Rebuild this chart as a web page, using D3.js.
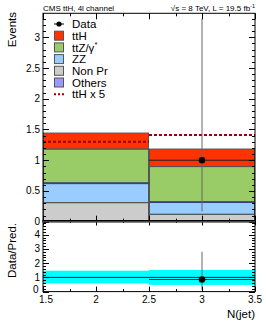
<!DOCTYPE html>
<html><head><meta charset="utf-8">
<script src="https://cdn.jsdelivr.net/npm/d3@7"></script>
<style>body{margin:0;background:#fff}svg{display:block;font-family:"Liberation Sans",Arial,sans-serif}</style>
</head><body><svg id="c" width="266" height="322"></svg>
<script>
// ---- data ----
const binEdges = [1.5, 2.5, 3.5];
const binCenters = [2, 3];
const nonPr = [0.31, 0.12];
const zz = [0.31, 0.195];
const others = [0.012, 0.012];
const ttZ = [0.55, 0.57];
const ttH = [0.26, 0.285];
const ttHx5 = [1.30, 1.41];
const dataVals = [null, 1];
const dataLo = [null, 0.17];
const dataHi = [null, 3.30];
const ratioVals = [null, 0.85];
const ratioLo = [null, 0.14];
const ratioHi = [null, 2.80];
const bandLo = [0.58, 0.47];
const bandHi = [1.47, 1.52];
const xTicks = [1.5, 2, 2.5, 3, 3.5];
const xTickLabels = ["1.5", "2", "2.5", "3", "3.5"];
const yTicks = [0, 0.5, 1, 1.5, 2, 2.5, 3];
const yTickLabels = ["0", "0.5", "1", "1.5", "2", "2.5", "3"];
const rTicks = [0, 1, 2, 3, 4];
const rTickLabels = ["0", "1", "2", "3", "4"];
const layers = [
  {name: "Non Pr", vals: nonPr, color: "#cccccc", line: "#555555"},
  {name: "ZZ", vals: zz, color: "#99ccff", line: "#555555"},
  {name: "Others", vals: others, color: "#9999ff", line: "#333399"},
  {name: "ttZ/\u03b3*", vals: ttZ, color: "#99cc66", line: "#555555"},
  {name: "ttH", vals: ttH, color: "#ff3300", line: "#555555"}
];
const legendItems = [
  {name: "Data", type: "point"},
  {name: "ttH", type: "box", color: "#ff3300"},
  {name: "ttZ/\u03b3", sup: "*", type: "box", color: "#99cc66"},
  {name: "ZZ", type: "box", color: "#99ccff"},
  {name: "Non Pr", type: "box", color: "#cccccc"},
  {name: "Others", type: "box", color: "#9999ff"},
  {name: "ttH x 5", type: "dash"}
];

const svg = d3.select("#c");
const L = 43, R = 255;
const x = d3.scaleLinear().domain([1.5, 3.5]).range([L, R]);
const y = d3.scaleLinear().domain([0, 3.39]).range([221.7, 13.3]);
const yr = d3.scaleLinear().domain([0, 5]).range([291.6, 220.5]);

svg.append("defs").append("clipPath").attr("id", "mclip")
  .append("rect").attr("x", L).attr("y", 13.3).attr("width", R - L).attr("height", 221.7 - 13.3);

// stacked histograms
const g = svg.append("g").attr("clip-path", "url(#mclip)");
const series = d3.stack().keys(layers.map((d, i) => i)).value((d, k) => layers[k].vals[d])(binCenters.map((c, i) => i));
series.forEach((s, k) => {
  s.forEach((v, i) => {
    g.append("rect")
      .attr("x", x(binEdges[i])).attr("width", x(binEdges[i + 1]) - x(binEdges[i]))
      .attr("y", y(v[1])).attr("height", y(v[0]) - y(v[1]))
      .attr("fill", layers[k].color);
  });
});
// outlines
series.forEach((s, k) => {
  s.forEach((v, i) => {
    g.append("rect")
      .attr("x", x(binEdges[i]) + 0.5).attr("width", x(binEdges[i + 1]) - x(binEdges[i]) - 1)
      .attr("y", y(v[1])).attr("height", Math.max(0, y(v[0]) - y(v[1])))
      .attr("fill", "none").attr("stroke", layers[k].line).attr("stroke-width", 1);
  });
});
// ttH x5 dashed
ttHx5.forEach((v, i) => {
  g.append("line").attr("x1", x(binEdges[i])).attr("x2", x(binEdges[i + 1]))
    .attr("y1", y(v)).attr("y2", y(v))
    .attr("stroke", "#990000").attr("stroke-width", 2).attr("stroke-dasharray", "3,2");
});
// data
dataVals.forEach((v, i) => {
  if (v == null) return;
  g.append("line").attr("x1", x(binCenters[i])).attr("x2", x(binCenters[i]))
    .attr("y1", y(dataLo[i])).attr("y2", y(dataHi[i])).attr("stroke", "#666").attr("stroke-width", 1);
  g.append("line").attr("x1", x(binEdges[i])).attr("x2", x(binEdges[i + 1]))
    .attr("y1", y(v)).attr("y2", y(v)).attr("stroke", "#222").attr("stroke-width", 1);
  g.append("circle").attr("cx", x(binCenters[i])).attr("cy", y(v)).attr("r", 3.3).attr("fill", "#000");
});

// ticks helper
function ticksY(scale, majors, minorStep, lo, hi, majLen, minLen) {
  const sel = svg.append("g").attr("stroke", "#000").attr("stroke-width", 1);
  for (let v = lo; v <= hi + 1e-9; v += minorStep) {
    const isMaj = majors.some(m => Math.abs(m - v) < 1e-6);
    const len = isMaj ? majLen : minLen;
    const yy = Math.round(scale(v)) + 0.5;
    sel.append("line").attr("x1", L).attr("x2", L + len).attr("y1", yy).attr("y2", yy);
    sel.append("line").attr("x1", R).attr("x2", R - len).attr("y1", yy).attr("y2", yy);
  }
}
function ticksX(yBottom, yTop, majLen, minLen) {
  const sel = svg.append("g").attr("stroke", "#000").attr("stroke-width", 1);
  for (let v = 1.5; v <= 3.5 + 1e-9; v += 0.25) {
    const isMaj = Math.abs(v * 2 - Math.round(v * 2)) < 1e-6;
    const len = isMaj ? majLen : minLen;
    const xx = Math.round(x(v)) + 0.5;
    sel.append("line").attr("x1", xx).attr("x2", xx).attr("y1", yBottom).attr("y2", yBottom - len);
    sel.append("line").attr("x1", xx).attr("x2", xx).attr("y1", yTop).attr("y2", yTop + len);
  }
}
ticksY(y, yTicks, 0.1, 0, 3.3, 6, 3);
ticksX(221.7, 13.3, 6, 3);

// main frame
svg.append("rect").attr("x", L).attr("y", 13.3).attr("width", R - L).attr("height", 221.7 - 13.3)
  .attr("fill", "none").attr("stroke", "#000").attr("stroke-width", 1);

// y tick labels main
svg.append("g").selectAll("text").data(yTicks).join("text")
  .attr("x", 40).attr("y", d => y(d)).attr("dy", "0.35em").attr("text-anchor", "end")
  .attr("font-size", 10).attr("fill", "#000").text((d, i) => yTickLabels[i]);

// legend
const lg = svg.append("g");
legendItems.forEach((it, i) => {
  const cy = 24 + i * 11.7;
  if (it.type === "point") {
    lg.append("circle").attr("cx", 59).attr("cy", cy).attr("r", 2.6).attr("fill", "#000");
    lg.append("line").attr("x1", 54).attr("x2", 64).attr("y1", cy).attr("y2", cy).attr("stroke", "#000");
  } else if (it.type === "box") {
    lg.append("rect").attr("x", 54.5).attr("y", cy - 4.5).attr("width", 9).attr("height", 9)
      .attr("fill", it.color).attr("stroke", "#555").attr("stroke-width", 1);
  } else {
    lg.append("line").attr("x1", 54).attr("x2", 64).attr("y1", cy).attr("y2", cy)
      .attr("stroke", "#990000").attr("stroke-width", 2).attr("stroke-dasharray", "2,2");
  }
  const t = lg.append("text").attr("x", 72).attr("y", cy + 4.1)
    .attr("font-size", 11.5).attr("fill", "#000");
  t.append("tspan").text(it.name);
  if (it.sup) t.append("tspan").attr("font-size", 7.5).attr("dy", -4.5).text(it.sup);
});

// titles
svg.append("text").attr("x", 43).attr("y", 10.5).attr("font-size", 8).text("CMS ttH, 4l channel");
const tr = svg.append("text").attr("x", 255).attr("y", 10.5).attr("font-size", 8).attr("text-anchor", "end");
tr.append("tspan").text("\u221As = 8 TeV, L = 19.5 fb");
tr.append("tspan").attr("font-size", 5.5).attr("dy", -3).text("-1");
svg.append("text").attr("transform", "translate(16,12) rotate(-90)").attr("text-anchor", "end")
  .attr("font-size", 11.5).text("Events");

// ratio panel
const gr = svg.append("g");
bandLo.forEach((lo, i) => {
  gr.append("rect").attr("x", x(binEdges[i])).attr("width", x(binEdges[i + 1]) - x(binEdges[i]))
    .attr("y", yr(bandHi[i])).attr("height", yr(lo) - yr(bandHi[i])).attr("fill", "#00ffff");
});
gr.append("line").attr("x1", L).attr("x2", R).attr("y1", yr(1)).attr("y2", yr(1))
  .attr("stroke", "#0000cc").attr("stroke-width", 1);
ratioVals.forEach((v, i) => {
  if (v == null) return;
  gr.append("line").attr("x1", x(binCenters[i])).attr("x2", x(binCenters[i]))
    .attr("y1", yr(ratioLo[i])).attr("y2", yr(ratioHi[i])).attr("stroke", "#666");
  gr.append("line").attr("x1", x(binEdges[i])).attr("x2", x(binEdges[i + 1]))
    .attr("y1", yr(v)).attr("y2", yr(v)).attr("stroke", "#222");
  gr.append("circle").attr("cx", x(binCenters[i])).attr("cy", yr(v)).attr("r", 3.3).attr("fill", "#000");
});
ticksY(yr, [0, 1, 2, 3, 4, 5], 0.2, 0, 5, 6, 3);
ticksX(291.6, 220.5, 5, 2.5);
svg.append("rect").attr("x", L).attr("y", 220.5).attr("width", R - L).attr("height", 291.6 - 220.5)
  .attr("fill", "none").attr("stroke", "#000").attr("stroke-width", 1);
// redraw main bottom axis line
svg.append("line").attr("x1", L).attr("x2", R).attr("y1", 221.7).attr("y2", 221.7).attr("stroke", "#444").attr("stroke-width", 1.5);

svg.append("g").selectAll("text").data(rTicks).join("text")
  .attr("x", d => d === 0 ? 38.5 : 40).attr("y", d => yr(d)).attr("dy", d => d === 0 ? "0.1em" : "0.35em").attr("text-anchor", "end")
  .attr("font-size", 10).text((d, i) => rTickLabels[i]);
svg.append("g").selectAll("text").data(xTicks).join("text")
  .attr("x", (d, i) => x(d) + (i === 0 ? 3 : 0)).attr("y", 302.5).attr("text-anchor", "middle")
  .attr("font-size", 10).text((d, i) => xTickLabels[i]);
svg.append("text").attr("x", 255).attr("y", 318).attr("text-anchor", "end").attr("font-size", 11.5).text("N(jet)");
svg.append("text").attr("transform", "translate(16,223) rotate(-90)").attr("text-anchor", "end")
  .attr("font-size", 11.5).text("Data/Pred.");
</script></body></html>
